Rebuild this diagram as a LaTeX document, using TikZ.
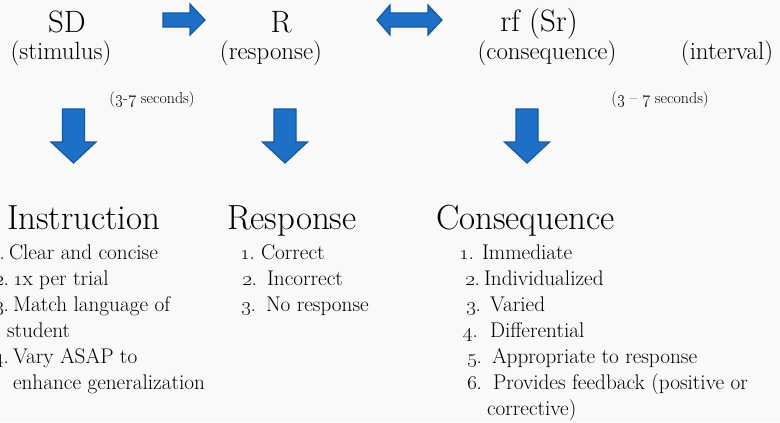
\documentclass[tikz,border=0pt]{standalone}
\definecolor{bg}{RGB}{249,249,249}
\definecolor{arrowfill}{RGB}{30,112,198}
\definecolor{arrowdraw}{RGB}{20,88,160}
\tikzset{
  blockarrow/.style={fill=arrowfill, draw=arrowdraw, line width=1.2bp, line join=miter},
  txt/.style={inner sep=0pt, outer sep=0pt, anchor=base},
  big/.style={txt, font=\fontsize{31}{36}\selectfont},
  sub/.style={txt, font=\fontsize{25}{30}\selectfont},
  small/.style={txt, font=\fontsize{16}{19}\selectfont},
  head/.style={txt, anchor=base west, font=\fontsize{35}{40}\selectfont},
  item/.style={txt, anchor=base west, font=\fontsize{21.3}{25}\selectfont},
}
\newcommand{\osn}[1]{\oldstylenums{#1}}
\begin{document}
\begin{tikzpicture}[x=1bp,y=-1bp]
\useasboundingbox (0,0) rectangle (780,422);
\clip (0,0) rectangle (780,422);
\fill[bg] (0,0) rectangle (780,422);

% top row
\node[big] (sd) at (67,32) {SD};
\node[big] (r) at (281,32) {R};
\node[big] (rf) at (539,31) {rf (Sr)};
\node[sub] (stim) at (61,59) {(stimulus)};
\node[sub] (resp) at (271,59) {(response)};
\node[sub] (cons) at (547,59) {(consequence)};
\node[sub] (intv) at (727,59) {(interval)};
\node[small] (sec1) at (152,103) {(\osn{3}-\osn{7} seconds)};
\node[small] (sec2) at (660,103) {(\osn{3} -- \osn{7} seconds)};

% horizontal arrows
\draw[blockarrow] (163,13) -- (190,13) -- (190,4) -- (205,20) -- (190,35) -- (190,27) -- (163,27) -- cycle;
\draw[blockarrow] (377,20) -- (390,5) -- (390,13) -- (428,13) -- (428,5) -- (442,20) -- (428,35) -- (428,27) -- (390,27) -- (390,35) -- cycle;

% down arrows
\foreach \cx in {73.5,285,527}{
  \draw[blockarrow] (\cx-11,109) -- (\cx+11,109) -- (\cx+11,142) -- (\cx+22.5,142)
    -- (\cx,163) -- (\cx-22.5,142) -- (\cx-11,142) -- cycle;
}

% Instruction column
\node[head] (ih) at (7,229) {Instruction};
\node[item, anchor=base east] (in1) at (5,259) {\osn{1}.};
\node[item] (i1) at (9,259) {Clear and concise};
\node[item, anchor=base east] (in2) at (9,285) {\osn{2}.};
\node[item] (i2) at (13,285) {\osn{1}x per trial};
\node[item, anchor=base east] (in3) at (9,311) {\osn{3}.};
\node[item] (i3) at (13,311) {Match language of};
\node[item] (i3b) at (7,337) {student};
\node[item, anchor=base east] (in4) at (9,363) {\osn{4}.};
\node[item] (i4) at (13,363) {Vary ASAP to};
\node[item] (i4b) at (13,389) {enhance generalization};

% Response column
\node[head] (rh) at (227,229) {Response};
\node[item] (rn1) at (240,259) {\osn{1}.};
\node[item] (r1) at (261,259) {Correct};
\node[item] (rn2) at (242,285) {\osn{2}.};
\node[item] (r2) at (267,285) {Incorrect};
\node[item] (rn3) at (241,311) {\osn{3}.};
\node[item] (r3) at (266,311) {No response};

% Consequence column
\node[head] (ch) at (436,229) {Consequence};
\node[item] (cn1) at (459,259) {\osn{1}.};
\node[item] (c1) at (482,259) {Immediate};
\node[item] (cn2) at (465,285) {\osn{2}.};
\node[item] (c2) at (484,285) {Individualized};
\node[item] (cn3) at (466,311) {\osn{3}.};
\node[item] (c3) at (490,311) {Varied};
\node[item] (cn4) at (463,337) {\osn{4}.};
\node[item] (c4) at (490,337) {Differential};
\node[item] (cn5) at (467,363) {\osn{5}.};
\node[item] (c5) at (492,363) {Appropriate to response};
\node[item] (cn6) at (467,389) {\osn{6}.};
\node[item] (c6) at (493,389) {Provides feedback (positive or};
\node[item] (c6b) at (487,415) {corrective)};
\end{tikzpicture}
\end{document}
